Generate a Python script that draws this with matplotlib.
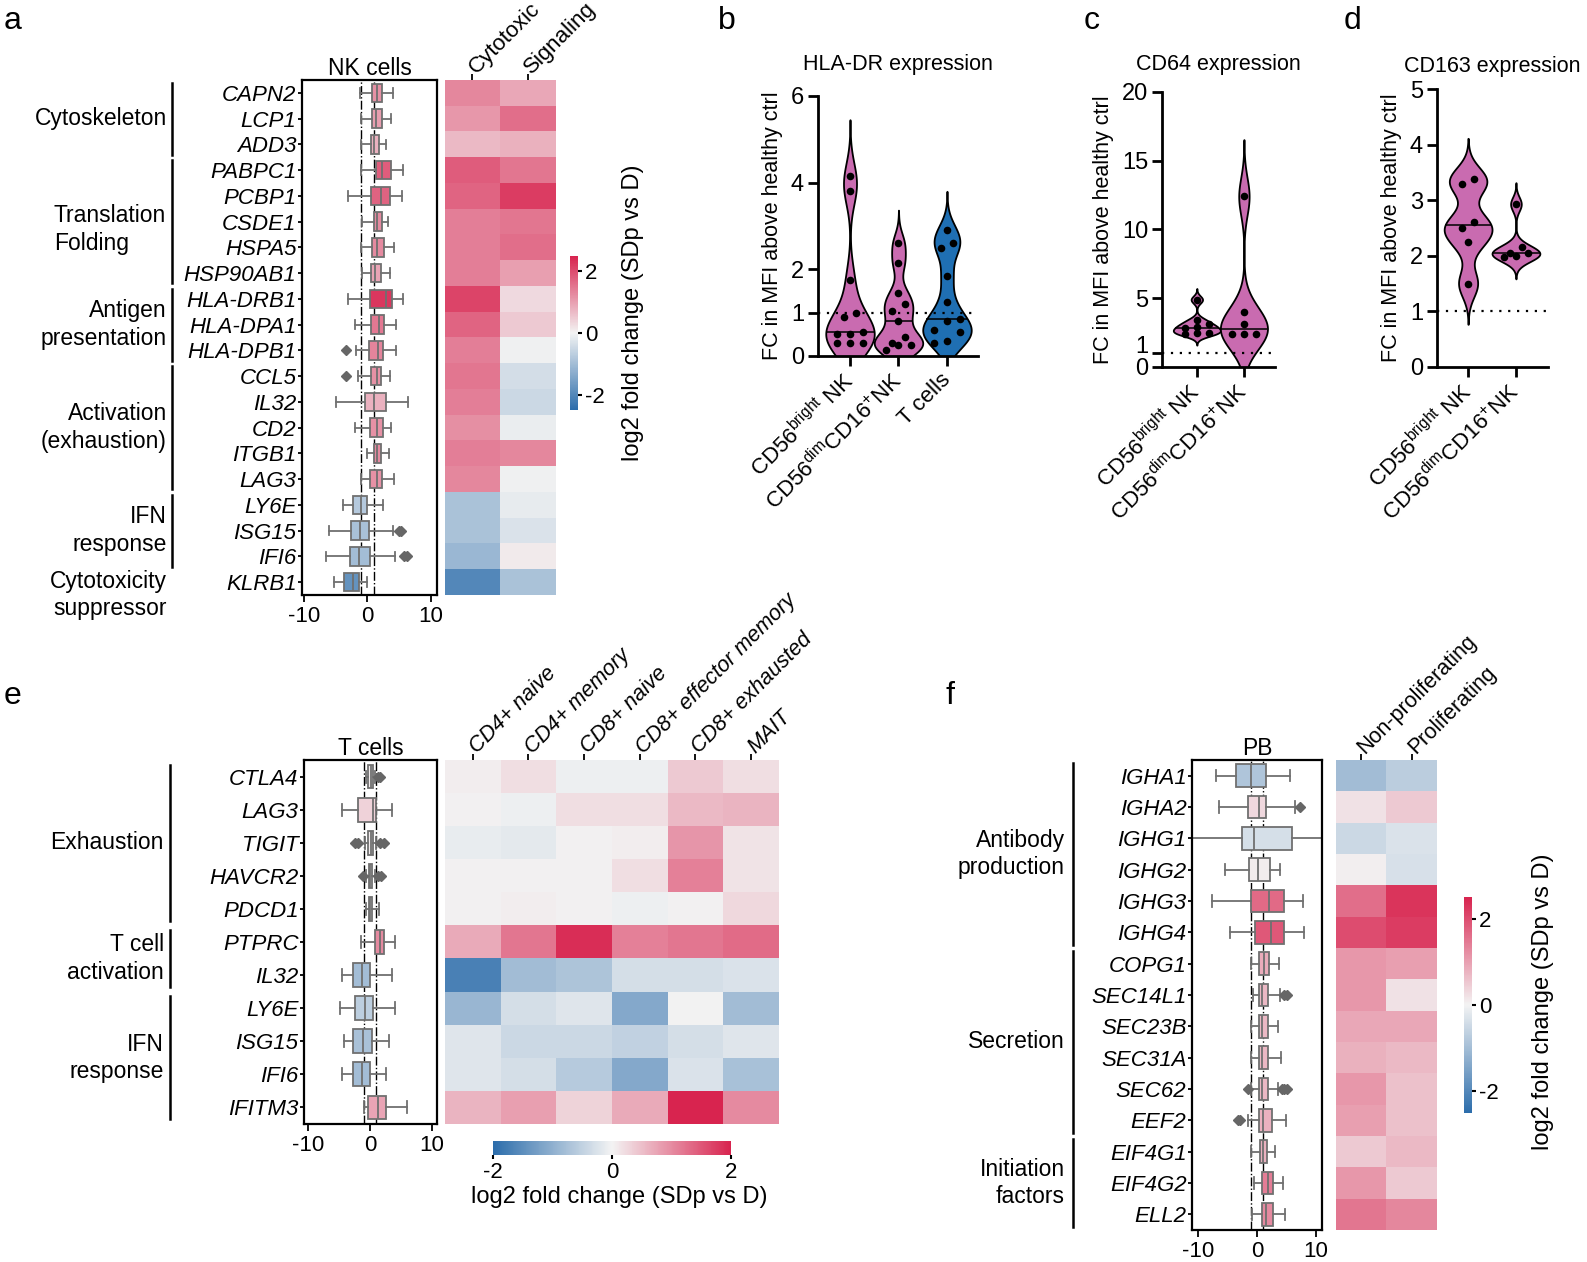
import numpy as np
import matplotlib.pyplot as plt
from matplotlib.colors import LinearSegmentedColormap, Normalize
from matplotlib.transforms import blended_transform_factory

plt.rcParams['font.family'] = ['Liberation Sans', 'DejaVu Sans']
plt.rcParams['mathtext.default'] = 'regular'
plt.rcParams['axes.unicode_minus'] = False

# ---------------- data ----------------
# a: NK cells
nk_genes = ["CAPN2", "LCP1", "ADD3", "PABPC1", "PCBP1", "CSDE1", "HSPA5", "HSP90AB1",
            "HLA-DRB1", "HLA-DPA1", "HLA-DPB1", "CCL5", "IL32", "CD2", "ITGB1", "LAG3",
            "LY6E", "ISG15", "IFI6", "KLRB1"]
nk_q1 = [0.8, 0.8, 0.6, 1.4, 0.6, 1.0, 0.8, 0.6, 0.4, 0.6, 0.3, 0.6, -0.4, 0.4, 1.0, 0.5, -2.2, -2.5, -2.7, -3.7]
nk_med = [1.5, 1.3, 1.0, 2.3, 2.2, 1.6, 1.6, 1.2, 2.9, 1.9, 1.7, 1.5, 1.0, 1.5, 1.6, 1.5, -1.0, -1.2, -1.3, -2.3]
nk_q3 = [2.4, 2.3, 1.9, 3.7, 3.6, 2.3, 2.6, 2.1, 3.9, 2.7, 2.5, 2.2, 2.9, 2.5, 2.2, 2.3, 0.0, 0.2, 0.5, -1.3]
nk_wlo = [-1.2, -1.0, -1.0, -1.0, -3.1, -0.8, -1.0, -0.8, -3.1, -2.0, -1.8, -1.5, -4.9, -2.0, 0.0, -1.0, -3.9, -6.0, -6.5, -5.3]
nk_whi = [4.0, 3.8, 2.9, 5.6, 5.5, 3.3, 4.2, 3.6, 5.6, 4.6, 4.5, 3.6, 6.4, 3.8, 3.5, 4.2, 2.5, 4.0, 4.3, 0.0]
nk_fliers = [[], [], [], [], [], [], [], [], [], [], [-3.3], [-3.3], [], [], [], [], [],
             [5.0, 5.3], [5.8, 6.3], []]
nk_cytotoxic = [1.3, 1.1, 0.7, 1.8, 1.7, 1.4, 1.4, 1.4, 2.1, 1.7, 1.4, 1.5, 1.4, 1.2, 1.4, 1.3, -0.9, -0.9, -1.1, -2.0]
nk_signaling = [0.9, 1.6, 0.8, 1.5, 2.2, 1.5, 1.6, 1.0, 0.3, 0.5, -0.05, -0.4, -0.5, -0.1, 1.3, -0.05, -0.15, -0.3, 0.1, -0.9]
nk_cols = ["Cytotoxic", "Signaling"]
nk_group_names = ["Cytoskeleton", "Translation\nFolding", "Antigen\npresentation",
                  "Activation\n(exhaustion)", "IFN\nresponse", "Cytotoxicity\nsuppressor"]
nk_group_start = [0, 3, 8, 11, 16, 19]
nk_group_end = [2, 7, 10, 15, 18, 19]

# b, c, d: flow cytometry fold changes
hla_cats = ["CD56$^{bright}$ NK", "CD56$^{dim}$CD16$^{+}$NK", "T cells"]
hla_bright = [4.15, 3.8, 1.75, 1.0, 0.9, 0.55, 0.5, 0.5, 0.3, 0.3, 0.3]
hla_dim = [2.6, 2.15, 1.45, 1.2, 1.05, 0.8, 0.45, 0.3, 0.25, 0.25, 0.15]
hla_t = [2.9, 2.6, 2.5, 1.85, 1.25, 0.85, 0.8, 0.6, 0.55, 0.35, 0.3]
nk_cats = ["CD56$^{bright}$ NK", "CD56$^{dim}$CD16$^{+}$NK"]
cd64_bright = [4.9, 3.4, 3.1, 2.9, 2.8, 2.5, 2.5, 2.4]
cd64_dim = [12.4, 4.0, 3.1, 2.4, 2.4, 2.4]
cd163_bright = [3.38, 3.3, 2.6, 2.5, 2.25, 1.5]
cd163_dim = [2.93, 2.15, 2.05, 2.05, 2.0, 1.97]

# e: T cells
t_genes = ["CTLA4", "LAG3", "TIGIT", "HAVCR2", "PDCD1", "PTPRC", "IL32", "LY6E", "ISG15", "IFI6", "IFITM3"]
t_q1 = [-0.3, -2.0, -0.3, -0.2, -0.2, 0.8, -2.8, -2.5, -2.7, -2.7, -0.3]
t_med = [0.1, 0.5, 0.1, 0.0, 0.0, 1.6, -1.3, -0.9, -1.2, -1.3, 1.2]
t_q3 = [0.4, 1.0, 0.4, 0.3, 0.3, 2.2, 0.0, 0.5, 0.3, 0.0, 2.6]
t_wlo = [-0.6, -4.5, -0.8, -0.6, -0.6, -1.5, -4.5, -4.8, -4.3, -4.5, -1.0]
t_whi = [0.8, 3.5, 0.9, 0.7, 1.5, 4.0, 3.5, 4.0, 3.0, 2.5, 6.0]
t_fliers = [[1.3, 1.6], [], [-2.5, -2.0, 1.6, 2.3], [-1.2, 1.2, 1.7], [], [], [], [], [], [], []]
t_cols = ["CD4+ naive", "CD4+ memory", "CD8+ naive", "CD8+ effector memory", "CD8+ exhausted", "MAIT"]
t_cd4_naive = [0.05, 0.02, -0.1, 0.02, 0.02, 0.7, -1.7, -0.9, -0.2, -0.2, 0.6]
t_cd4_memory = [0.2, -0.05, -0.15, 0.02, 0.05, 1.2, -0.8, -0.3, -0.4, -0.3, 0.8]
t_cd8_naive = [-0.05, 0.2, 0.02, 0.02, 0.03, 1.9, -0.7, -0.2, -0.4, -0.6, 0.3]
t_cd8_em = [-0.05, 0.2, 0.05, 0.2, -0.05, 1.1, -0.3, -1.1, -0.5, -1.1, 0.7]
t_cd8_exh = [0.4, 0.55, 0.9, 1.1, 0.02, 1.2, -0.3, 0.0, -0.3, -0.25, 2.0]
t_mait = [0.2, 0.6, 0.15, 0.15, 0.25, 1.3, -0.25, -0.8, -0.2, -0.75, 1.0]
t_group_names = ["Exhaustion", "T cell\nactivation", "IFN\nresponse"]
t_group_start = [0, 5, 7]
t_group_end = [4, 6, 10]

# f: plasmablasts
pb_genes = ["IGHA1", "IGHA2", "IGHG1", "IGHG2", "IGHG3", "IGHG4", "COPG1", "SEC14L1", "SEC23B",
            "SEC31A", "SEC62", "EEF2", "EIF4G1", "EIF4G2", "ELL2"]
pb_q1 = [-3.6, -1.6, -2.6, -1.4, -1.1, -0.4, 0.4, 0.4, 0.4, 0.4, 0.4, 0.4, 0.5, 0.9, 0.8]
pb_med = [-1.1, 0.4, -0.5, 0.1, 2.1, 2.4, 1.1, 0.9, 0.9, 0.9, 0.9, 1.0, 1.0, 1.8, 1.6]
pb_q3 = [1.6, 1.6, 5.9, 2.2, 4.5, 4.6, 2.1, 1.9, 1.9, 1.9, 1.9, 2.5, 1.7, 2.7, 2.7]
pb_wlo = [-7.0, -6.4, -11.0, -5.4, -7.6, -4.6, -1.1, -0.7, -1.1, -1.0, -1.0, -1.6, -1.0, -0.5, -0.8]
pb_whi = [5.6, 6.4, 11.0, 3.9, 7.7, 8.0, 3.7, 3.9, 3.6, 4.0, 3.6, 4.9, 3.0, 4.4, 4.8]
pb_fliers = [[], [7.2], [], [], [], [], [], [4.5, 5.0], [], [], [-1.5, 4.2, 4.6, 5.0], [-3.2, -2.8], [], [], []]
pb_cols = ["Non-proliferating", "Proliferating"]
pb_nonprolif = [-1.0, 0.2, -0.5, 0.05, 1.6, 2.0, 1.1, 1.1, 0.9, 0.8, 1.1, 1.0, 0.5, 1.1, 1.5]
pb_prolif = [-0.7, 0.5, -0.3, -0.35, 2.3, 2.2, 1.0, 0.2, 0.9, 0.7, 0.6, 0.6, 0.7, 0.5, 1.3]
pb_group_names = ["Antibody\nproduction", "Secretion", "Initiation\nfactors"]
pb_group_start = [0, 6, 12]
pb_group_end = [5, 11, 14]

# ---------------- figure ----------------
W, H = 1587, 1262
fig = plt.figure(figsize=(W / 100, H / 100), dpi=100)

cmap = LinearSegmentedColormap.from_list('sdp', ['#2c6dab', '#f3f3f3', '#d8244f'])
box_norm = Normalize(-3.2, 3.2)
grey = '#707070'
pink = '#c96bb0'
blue = '#1f6fb3'


def rect(x0, y0, x1, y1):
    return [x0 / W, 1 - y1 / H, (x1 - x0) / W, (y1 - y0) / H]


def gene_boxes(ax, genes, q1, med, q3, wlo, whi, fliers, xlim, title):
    stats = [dict(q1=a, med=m, q3=b, whislo=lo, whishi=hi, fliers=f)
             for a, m, b, lo, hi, f in zip(q1, med, q3, wlo, whi, fliers)]
    ax.axvline(-1, color='k', lw=1, ls='-.', zorder=1)
    ax.axvline(1, color='k', lw=1, ls='-.', zorder=1)
    kw = dict(positions=np.arange(len(genes)), widths=0.72, patch_artist=True,
              boxprops=dict(edgecolor=grey, lw=1.3),
              whiskerprops=dict(color=grey, lw=1.3), capprops=dict(color=grey, lw=1.3),
              medianprops=dict(color=grey, lw=1.3),
              flierprops=dict(marker='D', markerfacecolor='#666666', markeredgecolor='#666666', markersize=5))
    try:
        bp = ax.bxp(stats, orientation='horizontal', **kw)
    except TypeError:
        bp = ax.bxp(stats, vert=False, **kw)
    for patch, m in zip(bp['boxes'], med):
        patch.set_facecolor(cmap(box_norm(m)))
        patch.set_zorder(2)
    ax.set_ylim(len(genes) - 0.5, -0.5)
    ax.set_xlim(*xlim)
    ax.set_yticks(np.arange(len(genes)))
    ax.set_yticklabels(genes, style='italic', fontsize=16)
    ax.set_xticks([-10, 0, 10])
    ax.set_xticklabels(['-10', '0', '10'])
    ax.tick_params(axis='y', length=3, width=1.3, pad=1)
    ax.tick_params(axis='x', length=5, width=1.3, labelsize=16, pad=3)
    for s in ax.spines.values():
        s.set_linewidth(1.6)
    ax.set_title(title, fontsize=16.5, pad=3)


def heat(ax, cols, names, vmin, vmax, italic=False, size=16):
    im = ax.imshow(np.column_stack(cols), cmap=cmap, norm=Normalize(vmin, vmax),
                   aspect='auto', interpolation='nearest')
    ax.xaxis.tick_top()
    ax.set_xticks(np.arange(len(names)))
    ax.set_xticklabels(names, rotation=45, ha='left', va='center', rotation_mode='anchor',
                       fontsize=size, style='italic' if italic else 'normal')
    ax.set_yticks([])
    ax.tick_params(axis='x', length=4, width=1.3, pad=3)
    for s in ax.spines.values():
        s.set_visible(False)
    return im


def groups(ax, names, starts, ends, x_line, x_text, pad, left_names=(), x_left=0):
    tr = blended_transform_factory(fig.transFigure, ax.transData)
    for name, r0, r1 in zip(names, starts, ends):
        yc = (r0 + r1) / 2
        if r1 > r0:
            ax.plot([x_line / W] * 2, [r0 - pad, r1 + pad], transform=tr, color='k', lw=1.8,
                    clip_on=False)
        else:
            yc = r0 + 0.5
        if name in left_names:
            ax.text(x_left / W, yc + 0.3, name, transform=tr, ha='left', va='center',
                    fontsize=16.5, linespacing=1.25, multialignment='left')
        else:
            ax.text(x_text / W, yc, name, transform=tr, ha='right', va='center',
                    fontsize=16.5, linespacing=1.25, multialignment='right')


def kde(vals, grid, bw):
    z = (grid[:, None] - vals[None, :]) / bw
    return np.exp(-0.5 * z ** 2).sum(axis=1) / (len(vals) * bw * np.sqrt(2 * np.pi))


def spread(vals, tol, step):
    order = np.argsort(vals)
    offs = np.zeros(len(vals))
    grp = [[order[0]]]
    for i in order[1:]:
        if vals[i] - vals[grp[-1][-1]] <= tol and len(grp[-1]) < 3:
            grp[-1].append(i)
        else:
            grp.append([i])
    for g in grp:
        offs[g] = (np.arange(len(g)) - (len(g) - 1) / 2) * step
    return offs


def violins(ax, groups_vals, colors, cats, ymax, yticks, title, width=1.0, tpad=13):
    stats = []
    for vals in groups_vals:
        v = np.asarray(vals, float)
        bw = 0.5 * v.std(ddof=1) * len(v) ** (-0.2)
        coords = np.linspace(v.min() - 3 * bw, v.max() + 3 * bw, 400)
        stats.append(dict(coords=coords, vals=kde(v, coords, bw), mean=v.mean(),
                          median=np.median(v), min=v.min(), max=v.max()))
    parts = ax.violin(stats, positions=np.arange(len(stats)), widths=width,
                      showmeans=False, showextrema=False, showmedians=False)
    for body, c in zip(parts['bodies'], colors):
        body.set_facecolor(c)
        body.set_edgecolor('k')
        body.set_linewidth(1.3)
        body.set_alpha(1)
    for i, (s, vals) in enumerate(zip(stats, groups_vals)):
        v = np.asarray(vals, float)
        half = 0.5 * width * np.interp(s['median'], s['coords'], s['vals']) / s['vals'].max()
        ax.hlines(s['median'], i - half, i + half, color='k', lw=1.1, zorder=3)
        ax.scatter(i + spread(v, 0.035 * ymax, 0.26), v, s=30, color='k', zorder=4, lw=0)
    ax.axhline(1, color='k', ls=(0, (1, 3)), lw=1.6, zorder=1)
    ax.set_ylim(0, ymax)
    ax.set_yticks(yticks)
    ax.set_xticks(np.arange(len(cats)))
    ax.set_xticklabels(cats, rotation=45, ha='right', va='center', rotation_mode='anchor', fontsize=16)
    ax.tick_params(axis='y', length=7, width=2, labelsize=17, pad=3)
    ax.tick_params(axis='x', length=7, width=2, pad=8)
    for side in ['top', 'right']:
        ax.spines[side].set_visible(False)
    for side in ['left', 'bottom']:
        ax.spines[side].set_linewidth(2)
    ax.set_ylabel("FC in MFI above healthy ctrl", fontsize=15.5, labelpad=6)
    ax.set_title(title, fontsize=15.5, pad=tpad)


# ---- panel a ----
ax_a = fig.add_axes(rect(302, 80, 437, 595))
gene_boxes(ax_a, nk_genes, nk_q1, nk_med, nk_q3, nk_wlo, nk_whi, nk_fliers, (-10.3, 11), "NK cells")
groups(ax_a, nk_group_names, nk_group_start, nk_group_end, 172, 167, 0.4,
       left_names=["Translation\nFolding"], x_left=54)
ax_ah = fig.add_axes(rect(445, 80, 555, 595))
im_a = heat(ax_ah, [nk_cytotoxic, nk_signaling], nk_cols, -2.5, 2.5)
cax_a = fig.add_axes(rect(570, 256, 578, 410))
cb = fig.colorbar(im_a, cax=cax_a, ticks=[-2, 0, 2])
cb.outline.set_visible(False)
cb.ax.set_yticklabels(['-2', '0', '2'])
cax_a.tick_params(labelsize=16, length=3, width=1.5, pad=2)
fig.text(633 / W, 1 - 313 / H, "log2 fold change (SDp vs D)", rotation=90, ha='center', va='center', fontsize=17)

# ---- panels b, c, d ----
ax_b = fig.add_axes(rect(818, 96, 978, 356))
violins(ax_b, [hla_bright, hla_dim, hla_t], [pink, pink, blue], hla_cats, 6, [0, 1, 2, 4, 6],
        "HLA-DR expression", tpad=19)
ax_b.set_xlim(-0.66, 2.64)
ax_c = fig.add_axes(rect(1162, 92, 1275, 367))
violins(ax_c, [cd64_bright, cd64_dim], [pink, pink], nk_cats, 20, [0, 1, 5, 10, 15, 20],
        "CD64 expression", tpad=16)
ax_c.set_xlim(-0.74, 1.66)
for lab in ax_c.get_yticklabels():
    if lab.get_text() == '1':
        lab.set_va('baseline')
ax_d = fig.add_axes(rect(1437, 89, 1548, 367))
violins(ax_d, [cd163_bright, cd163_dim], [pink, pink], nk_cats, 5, [0, 1, 2, 3, 4, 5],
        "CD163 expression", tpad=12)
ax_d.set_xlim(-0.65, 1.67)

# ---- panel e ----
ax_e = fig.add_axes(rect(304, 760, 437, 1124))
gene_boxes(ax_e, t_genes, t_q1, t_med, t_q3, t_wlo, t_whi, t_fliers, (-10.7, 10.8), "T cells")
groups(ax_e, t_group_names, t_group_start, t_group_end, 170, 164, 0.36)
ax_eh = fig.add_axes(rect(445, 760, 779, 1124))
im_e = heat(ax_eh, [t_cd4_naive, t_cd4_memory, t_cd8_naive, t_cd8_em, t_cd8_exh, t_mait],
            t_cols, -2, 2, italic=True, size=15.5)
cax_e = fig.add_axes(rect(493, 1141, 731, 1155))
cb = fig.colorbar(im_e, cax=cax_e, orientation='horizontal', ticks=[-2, 0, 2])
cb.outline.set_visible(False)
cb.ax.set_xticklabels(['-2', '0', '2'])
cax_e.tick_params(labelsize=16, length=3, width=1.5, pad=2)
fig.text(619 / W, 1 - 1197 / H, "log2 fold change (SDp vs D)", ha='center', va='center', fontsize=17)

# ---- panel f ----
ax_f = fig.add_axes(rect(1192, 760, 1322, 1230))
gene_boxes(ax_f, pb_genes, pb_q1, pb_med, pb_q3, pb_wlo, pb_whi, pb_fliers, (-11, 11), "PB")
groups(ax_f, pb_group_names, pb_group_start, pb_group_end, 1073, 1065, 0.42)
ax_fh = fig.add_axes(rect(1336, 760, 1437, 1230))
im_f = heat(ax_fh, [pb_nonprolif, pb_prolif], pb_cols, -2.5, 2.5, size=15.5)
cax_f = fig.add_axes(rect(1464, 897, 1472, 1113))
cb = fig.colorbar(im_f, cax=cax_f, ticks=[-2, 0, 2])
cb.outline.set_visible(False)
cax_f.tick_params(labelsize=16, length=3, width=1.5, pad=2)
fig.text(1543 / W, 1 - 1002 / H, "log2 fold change (SDp vs D)", rotation=90, ha='center', va='center', fontsize=17)

# panel letters
for letter, x, y in [("a", 4, 29), ("b", 718, 29), ("c", 1084, 29), ("d", 1344, 29),
                     ("e", 4, 704), ("f", 946, 704)]:
    fig.text(x / W, 1 - y / H, letter, fontsize=23, ha='left', va='baseline')

fig.savefig("out.png", dpi=100)
